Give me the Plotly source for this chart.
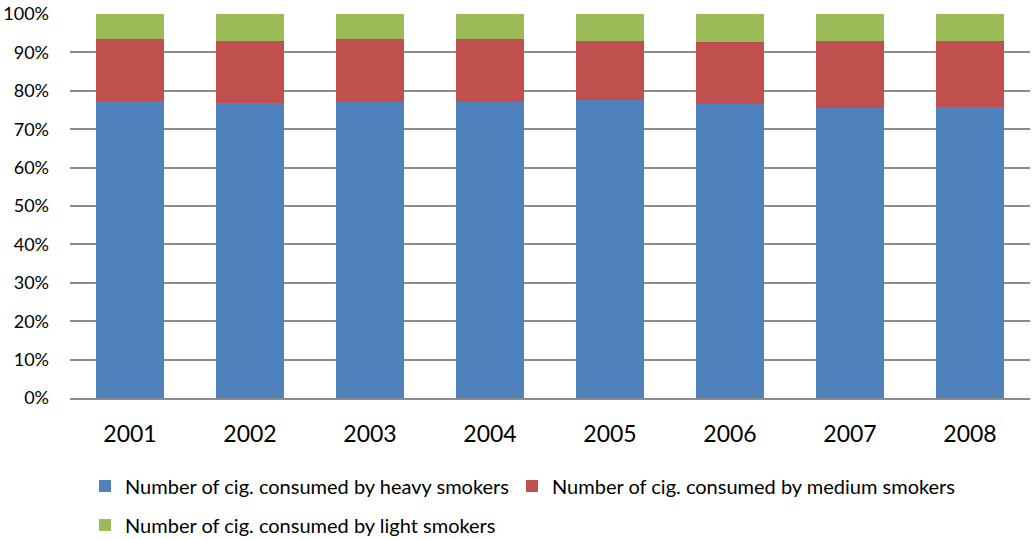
import plotly.graph_objects as go

# Share of cigarettes consumed, by smoker category (percent of yearly total)
years = ["2001", "2002", "2003", "2004", "2005", "2006", "2007", "2008"]
heavy = [77.3, 76.9, 77.2, 77.0, 77.5, 76.6, 75.4, 75.7]
medium = [16.1, 16.0, 16.3, 16.4, 15.6, 16.2, 17.6, 17.3]
light = [6.6, 7.1, 6.5, 6.6, 6.9, 7.2, 7.0, 7.0]

y_ticks = [0, 10, 20, 30, 40, 50, 60, 70, 80, 90, 100]
y_tick_text = [f"{v}%" for v in y_ticks]

FONT = "Lato"
series = [
    ("Number of cig. consumed by heavy smokers", heavy, "#4F81BD", "legend"),
    ("Number of cig. consumed by medium smokers", medium, "#C0504D", "legend2"),
    ("Number of cig. consumed by light smokers", light, "#9BBB59", "legend3"),
]

fig = go.Figure()
for name, vals, color, leg in series:
    fig.add_trace(go.Bar(
        x=years, y=vals, name=name, legend=leg,
        marker=dict(color=color, line=dict(width=0)),
    ))


def legend_box(x_px, y_px):
    return dict(
        orientation="h", xref="container", yref="container",
        x=x_px / 1032, y=1 - y_px / 539, xanchor="left", yanchor="middle",
        font=dict(size=20, family=FONT), bgcolor="rgba(0,0,0,0)",
    )


fig.update_layout(
    barmode="stack",
    bargap=0.433,
    width=1032, height=539,
    margin=dict(l=70, r=2, t=14, b=141, autoexpand=False),
    plot_bgcolor="white", paper_bgcolor="white",
    font=dict(family=FONT, color="#000000"),
    showlegend=True,
    xaxis=dict(
        showgrid=False, showline=True, linecolor="#8C8C8C", linewidth=1.5,
        ticks="", tickfont=dict(size=23, family=FONT),
        ticklabelstandoff=15,
    ),
    yaxis=dict(
        range=[0, 100], tickvals=y_ticks, ticktext=y_tick_text,
        showgrid=True, gridcolor="#8C8C8C", gridwidth=1.5,
        zeroline=False, showline=False, ticks="",
        tickfont=dict(size=18, family=FONT),
        ticklabelstandoff=20,
    ),
    legend=legend_box(85, 486),
    legend2=legend_box(512, 486),
    legend3=legend_box(85, 525),
)

fig.write_html("out.html")
